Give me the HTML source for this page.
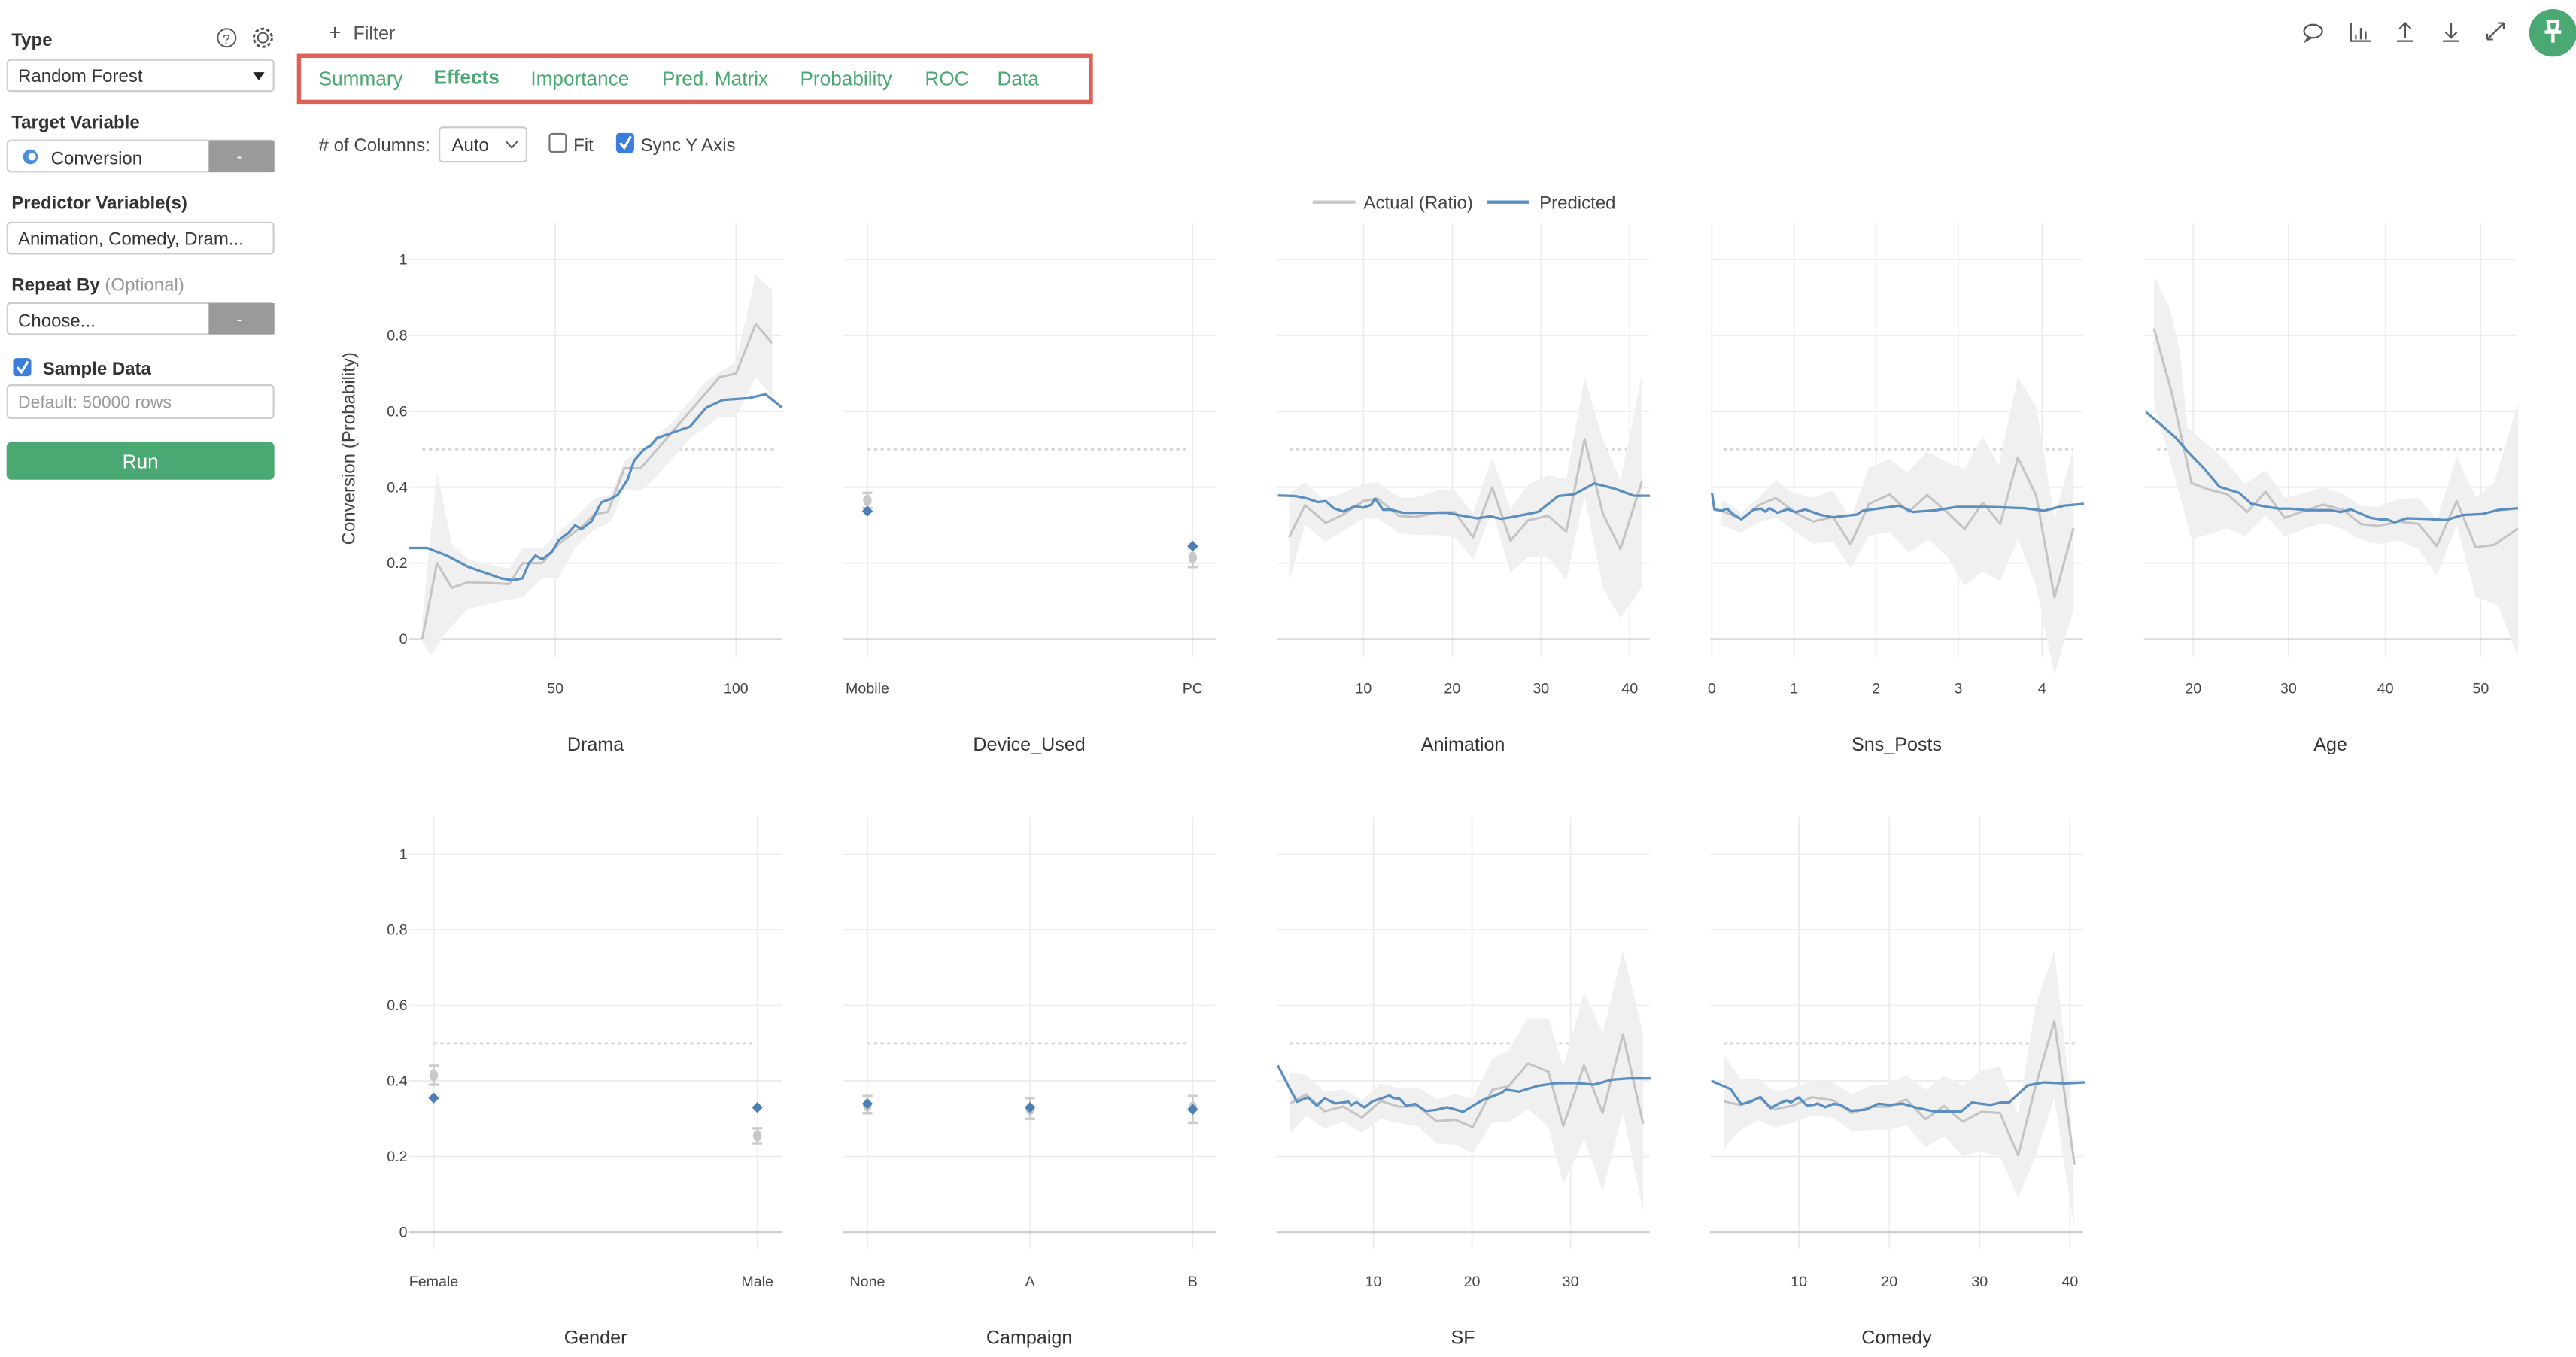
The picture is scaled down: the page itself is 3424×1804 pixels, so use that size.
<!DOCTYPE html>
<html><head><meta charset="utf-8">
<style>
html,body{margin:0;padding:0;background:#fff;width:3424px;height:1804px;overflow:hidden}
svg{display:block}
text{font-family:"Liberation Sans",Arial,sans-serif}
</style></head>
<body>
<svg id="s" xmlns="http://www.w3.org/2000/svg" width="3424" height="1804" viewBox="0 0 1568 826" preserveAspectRatio="none">
<g fill="#333">
<text x="7" y="28" font-size="11" font-weight="bold">Type</text>
<circle cx="138" cy="23" r="5.5" fill="none" stroke="#555" stroke-width="0.9"/><text x="135.5" y="26.5" font-size="8" fill="#555">?</text>
<circle cx="160" cy="23" r="3" fill="none" stroke="#555" stroke-width="0.9"/><circle cx="160" cy="23" r="5.5" fill="none" stroke="#555" stroke-width="1.4" stroke-dasharray="2 1.5"/>
<rect x="4.5" y="36.5" width="162" height="19" rx="2" fill="#fff" stroke="#ccc"/>
<text x="11" y="50" font-size="11">Random Forest</text>
<path d="M154 44 L161 44 L157.5 49 Z" fill="#222"/>
<text x="7" y="78" font-size="11" font-weight="bold">Target Variable</text>
<rect x="4.5" y="85.5" width="162" height="19" rx="2" fill="#fff" stroke="#ccc"/>
<rect x="127" y="85.5" width="40" height="19" fill="#9a9a9a"/>
<text x="144" y="99" font-size="11" fill="#fff">-</text>
<circle cx="18.5" cy="95.5" r="4.5" fill="#4a90d9"/><circle cx="19.5" cy="95.5" r="2.3" fill="#fff"/>
<text x="31" y="100" font-size="11">Conversion</text>
<text x="7" y="127" font-size="11" font-weight="bold">Predictor Variable(s)</text>
<rect x="4.5" y="135.5" width="162" height="19" rx="2" fill="#fff" stroke="#ccc"/>
<text x="11" y="149" font-size="11">Animation, Comedy, Dram...</text>
<text x="7" y="177" font-size="11" font-weight="bold">Repeat By <tspan font-weight="normal" fill="#999">(Optional)</tspan></text>
<rect x="4.5" y="184.5" width="162" height="19" rx="2" fill="#fff" stroke="#ccc"/>
<rect x="127" y="184.5" width="40" height="19" fill="#9a9a9a"/>
<text x="144" y="198" font-size="11" fill="#fff">-</text>
<text x="11" y="199" font-size="11">Choose...</text>
<rect x="8" y="218" width="11" height="11" rx="2" fill="#3b7ddd"/>
<path d="M10.5 223.5 L13 226.5 L17 220" stroke="#fff" stroke-width="1.5" fill="none"/>
<text x="26" y="228" font-size="11" font-weight="bold">Sample Data</text>
<rect x="4.5" y="234.5" width="162" height="20" rx="2" fill="#fff" stroke="#ccc"/>
<text x="11" y="248.5" font-size="10.5" fill="#999">Default: 50000 rows</text>
<rect x="4" y="269" width="163" height="23" rx="3" fill="#4aa872"/>
<text x="85.5" y="285" font-size="12" fill="#fff" text-anchor="middle">Run</text>
</g>
<text x="200" y="24" font-size="13" fill="#555">+</text>
<text x="215" y="24" font-size="11.5" fill="#555">Filter</text>
<rect x="182" y="34" width="482" height="28" fill="none" stroke="#dc6258" stroke-width="2.5"/>
<g font-size="12" fill="#4aa872">
<text x="194" y="52">Summary</text>
<text x="264" y="51" font-weight="bold">Effects</text>
<text x="323" y="52">Importance</text>
<text x="403" y="52">Pred. Matrix</text>
<text x="487" y="52">Probability</text>
<text x="563" y="52">ROC</text>
<text x="607" y="52">Data</text>
</g>
<text x="194" y="92" font-size="11" fill="#444"># of Columns:</text>
<rect x="267.5" y="77.5" width="53" height="21" rx="2" fill="#fff" stroke="#ccc"/>
<text x="275" y="92" font-size="11" fill="#333">Auto</text>
<path d="M308 86 L311.5 90 L315 86" stroke="#555" fill="none" stroke-width="0.9"/>
<rect x="334.5" y="81.5" width="10" height="11" rx="1.5" fill="#fff" stroke="#777"/>
<text x="349" y="92" font-size="11" fill="#444">Fit</text>
<rect x="375" y="81" width="11" height="12" rx="2" fill="#3b7ddd"/>
<path d="M377.5 87 L380 90 L384 83" stroke="#fff" stroke-width="1.5" fill="none"/>
<text x="390" y="92" font-size="11" fill="#444">Sync Y Axis</text>
<g stroke="#555" fill="none" stroke-width="1">
<ellipse cx="1408" cy="19" rx="5.5" ry="4"/><path d="M1405 22.5 L1403.5 25 L1407 23"/>
<path d="M1431 14 V25 H1443 M1434 24 V21 M1437 24 V17 M1440 24 V19"/>
<path d="M1459 25 H1469 M1464 23 V14 M1460.5 17.5 L1464 14 L1467.5 17.5"/>
<path d="M1487 25 H1497 M1492 14 V23 M1488.5 19.5 L1492 23 L1495.5 19.5"/>
<path d="M1514 24 L1524 14 M1514 24 V20.5 M1514 24 H1517.5 M1524 14 V17.5 M1524 14 H1520.5"/>
</g>
<circle cx="1554" cy="20" r="14.5" fill="#4aa872"/>
<path d="M1550 13 H1558 M1551 13 L1552 19 H1556 L1557 13 M1549 19.5 H1559 M1554 19.5 V26" stroke="#fff" stroke-width="2" fill="none"/>
<line x1="799" y1="123" x2="825" y2="123" stroke="#c8c8c8" stroke-width="2"/>
<text x="830" y="127" font-size="11" fill="#444">Actual (Ratio)</text>
<line x1="905" y1="123" x2="931" y2="123" stroke="#5a8fc0" stroke-width="2"/>
<text x="937" y="127" font-size="11" fill="#444">Predicted</text>
<text transform="translate(216,273) rotate(-90)" font-size="11" fill="#444" text-anchor="middle">Conversion (Probability)</text>
<g id="plots"></g>
</svg>
<script>
var NS="http://www.w3.org/2000/svg",G=document.getElementById('plots');
function el(t,a,txt){var e=document.createElementNS(NS,t);for(var k in a)e.setAttribute(k,a[k]);if(txt!==undefined)e.textContent=txt;G.appendChild(e);return e;}
function pth(pts){return pts.map(function(p,i){return (i?'L':'M')+p[0].toFixed(2)+' '+p[1].toFixed(2);}).join(' ');}
var rows=[{y0:389,h:231,top:136,bot:400,tick:422,title:457},{y0:750,h:230,top:497,bot:760,tick:783,title:818}];
var pans=[
 {r:0,x0:249,x1:476,name:"Drama",ticks:[[338,"50"],[448,"100"]],yl:true},
 {r:0,x0:513,x1:740,name:"Device_Used",ticks:[[528,"Mobile"],[726,"PC"]]},
 {r:0,x0:777,x1:1004,name:"Animation",ticks:[[830,"10"],[884,"20"],[938,"30"],[992,"40"]]},
 {r:0,x0:1041,x1:1268,name:"Sns_Posts",ticks:[[1042,"0"],[1092,"1"],[1142,"2"],[1192,"3"],[1243,"4"]]},
 {r:0,x0:1305,x1:1532,name:"Age",ticks:[[1335,"20"],[1393,"30"],[1452,"40"],[1510,"50"]]},
 {r:1,x0:249,x1:476,name:"Gender",ticks:[[264,"Female"],[461,"Male"]],yl:true},
 {r:1,x0:513,x1:740,name:"Campaign",ticks:[[528,"None"],[627,"A"],[726,"B"]]},
 {r:1,x0:777,x1:1004,name:"SF",ticks:[[836,"10"],[896,"20"],[956,"30"]]},
 {r:1,x0:1041,x1:1268,name:"Comedy",ticks:[[1095,"10"],[1150,"20"],[1205,"30"],[1260,"40"]]}
];
pans.forEach(function(p){var R=rows[p.r];
 p.ticks.forEach(function(t){el('line',{x1:t[0],x2:t[0],y1:R.top,y2:R.bot,stroke:'#ececec','stroke-width':0.8});
  el('text',{x:t[0],y:R.tick,'font-size':9,fill:'#444','text-anchor':'middle'},t[1]);});
 for(var i=0;i<=5;i++){var y=R.y0-i*0.2*R.h;
  el('line',{x1:p.x0,x2:p.x1,y1:y,y2:y,stroke:i?'#ececec':'#cfcfcf','stroke-width':i?0.9:1.1});
  if(p.yl)el('text',{x:p.x0-1,y:y+3,'font-size':9,fill:'#444','text-anchor':'end'},i==0?"0":i==5?"1":(i*0.2).toFixed(1));}
 el('text',{x:(p.x0+p.x1)/2,y:R.title,'font-size':11.5,fill:'#333','text-anchor':'middle'},p.name);
});
function dash(r,x0,x1){var R=rows[r],y=R.y0-0.5*R.h;el('line',{x1:x0,x2:x1,y1:y,y2:y,stroke:'#d8d8d8','stroke-width':1.4,'stroke-dasharray':'2 2'});}
function series(band,gray,blue){
 el('path',{d:pth(band)+' Z',fill:'#f0f0f0'});
 el('path',{d:pth(gray),fill:'none',stroke:'#c4c4c4','stroke-width':1.4,'stroke-linejoin':'round'});
 el('path',{d:pth(blue),fill:'none',stroke:'#5a8fc0','stroke-width':1.5,'stroke-linejoin':'round'});
}
function V(r,a){var R=rows[r];return a.map(function(p){return [p[0],R.y0-p[1]*R.h];});}
dash(0,257,471);
series(V(0,[[257,0.05],[266,0.44],[275,0.25],[285,0.21],[310,0.185],[318,0.24],[330,0.24],[350,0.32],[362,0.37],[372,0.38],[380,0.47],[390,0.50],[410,0.575],[430,0.68],[448,0.73],[460,0.96],[470,0.92],[470,0.64],[460,0.69],[448,0.585],[438,0.585],[420,0.53],[400,0.43],[390,0.39],[380,0.395],[372,0.31],[362,0.29],[350,0.24],[340,0.16],[330,0.16],[318,0.11],[305,0.1],[285,0.08],[272,0.02],[262,-0.045],[257,-0.005]]),
 V(0,[[257,0],[266,0.2],[275,0.135],[285,0.15],[310,0.145],[318,0.2],[330,0.2],[340,0.25],[355,0.3],[362,0.33],[370,0.335],[380,0.45],[390,0.45],[400,0.5],[420,0.6],[438,0.69],[448,0.7],[460,0.83],[470,0.78]]),
 V(0,[[249,0.24],[260,0.24],[272,0.22],[285,0.19],[295,0.175],[305,0.16],[312,0.155],[318,0.16],[322,0.2],[326,0.22],[330,0.21],[336,0.23],[340,0.26],[346,0.28],[350,0.3],[354,0.29],[360,0.31],[366,0.36],[372,0.37],[376,0.38],[382,0.42],[386,0.47],[392,0.5],[396,0.51],[400,0.53],[410,0.545],[420,0.56],[430,0.61],[440,0.63],[456,0.635],[466,0.645],[476,0.61]]));
function Z4(a){return a.map(function(p){return [774+p[0]*0.4848, 389-(1108-p[1])/1502*231];});}
function Z5(a){return a.map(function(p){return [773.9+p[0]*0.3242, 750-(1107-p[1])/1512*230];});}
dash(0,785,998);dash(0,1049,1262);dash(0,1313,1532);
function bandZ(f,u,l){return f(u.concat(l));}
series(bandZ(Z4,[[22,530],[42,487],[65,555],[90,530],[115,495],[133,487],[160,548],[180,548],[210,518],[228,515],[253,610],[277,388],[300,592],[322,497],[347,460],[370,475],[393,72],[416,318],[438,480],[465,62]],[[465,900],[438,1025],[416,905],[393,540],[370,875],[347,785],[322,783],[300,845],[277,600],[253,793],[230,705],[210,697],[180,695],[160,688],[133,630],[115,633],[90,680],[68,722],[42,655],[22,880]]),
 Z4([[22,705],[42,578],[68,648],[90,615],[115,562],[133,552],[160,620],[180,625],[210,606],[230,606],[253,705],[277,508],[300,718],[322,638],[347,620],[370,682],[393,316],[416,612],[438,752],[465,484]]),
 Z4([[8,540],[30,542],[45,552],[58,566],[68,562],[78,590],[90,603],[105,582],[115,588],[125,577],[130,552],[140,596],[150,596],[165,608],[220,608],[240,620],[258,630],[275,622],[288,632],[300,626],[320,614],[335,604],[360,542],[380,535],[405,492],[430,512],[455,541],[475,541]]));
series(bandZ(Z4,[[565,556],[590,608],[612,548],[633,480],[655,530],[680,548],[705,520],[727,632],[750,430],[776,395],[798,450],[823,365],[848,408],[870,436],[893,305],[913,420],[937,72],[960,188],[983,630],[1007,350]],[[1007,990],[983,1250],[960,900],[937,712],[915,878],[893,840],[870,897],[848,780],[825,715],[800,765],[776,683],[750,698],[727,828],[705,722],[680,731],[660,690],[635,628],[612,643],[590,687],[565,657]]),
 Z4([[565,600],[590,634],[612,578],[633,550],[660,612],[680,643],[705,625],[727,733],[750,573],[776,536],[800,605],[823,538],[848,605],[870,672],[893,568],[915,652],[937,390],[960,540],[983,943],[1007,668]]),
 Z4([[553,530],[556,595],[565,600],[572,592],[580,615],[590,634],[605,596],[615,592],[620,604],[625,590],[635,608],[648,594],[658,606],[670,595],[690,617],[705,626],[735,615],[742,600],[788,580],[805,605],[835,598],[860,585],[900,585],[945,590],[970,600],[995,580],[1020,573]]));
series(bandZ(Z4,[[1108,-330],[1128,-200],[1140,-40],[1150,272],[1180,350],[1200,410],[1222,495],[1248,440],[1272,548],[1300,528],[1320,508],[1345,533],[1368,582],[1390,585],[1415,553],[1440,550],[1463,635],[1488,386],[1512,548],[1535,490],[1565,175]],[[1565,1180],[1540,975],[1512,940],[1488,658],[1463,855],[1440,752],[1415,717],[1390,732],[1368,715],[1345,672],[1320,648],[1300,667],[1272,702],[1248,618],[1222,702],[1200,668],[1180,690],[1155,712],[1130,420],[1108,180]]),
 Z4([[1108,-121],[1130,130],[1155,490],[1175,515],[1200,535],[1225,605],[1248,525],[1272,628],[1300,597],[1320,576],[1345,596],[1368,653],[1390,660],[1415,643],[1440,652],[1463,740],[1488,562],[1512,745],[1535,735],[1565,670]]),
 Z4([[1098,210],[1115,255],[1135,310],[1150,365],[1170,430],[1190,505],[1215,530],[1230,572],[1250,585],[1265,592],[1280,592],[1300,598],[1330,598],[1342,605],[1355,595],[1380,628],[1392,634],[1400,634],[1410,646],[1425,630],[1450,632],[1475,637],[1495,617],[1520,613],[1540,597],[1565,590]]));
dash(1,785,999);dash(1,1049,1263);
series(bandZ(Z5,[[35,468],[65,478],[100,547],[135,535],[170,580],[205,513],[240,532],[275,528],[310,575],[345,555],[378,572],[415,412],[445,380],[482,250],[520,250],[548,445],[587,148],[622,312],[660,-20],[698,315]],[[698,1025],[660,630],[622,942],[587,735],[548,915],[520,685],[482,614],[445,668],[415,665],[378,792],[345,757],[310,753],[275,683],[240,670],[205,653],[170,710],[135,665],[100,692],[65,642],[35,712]]),
 Z5([[35,593],[65,556],[100,623],[135,604],[170,648],[205,582],[240,605],[275,603],[310,663],[345,657],[378,686],[415,537],[445,524],[482,432],[520,465],[548,682],[587,440],[622,630],[660,316],[698,673]]),
 Z5([[12,440],[35,535],[48,585],[68,568],[85,600],[100,572],[120,592],[145,585],[150,598],[160,587],[175,608],[190,583],[205,573],[222,560],[228,570],[240,573],[253,600],[270,594],[290,622],[310,617],[330,607],[360,625],[395,580],[432,550],[440,537],[465,545],[500,522],[535,511],[570,510],[605,517],[640,497],[670,492],[712,492]]));
series(bandZ(Z5,[[850,400],[880,492],[915,495],[945,545],[980,530],[1015,500],[1055,510],[1090,555],[1125,522],[1160,515],[1192,478],[1228,538],[1263,483],[1298,520],[1333,460],[1368,445],[1402,635],[1435,200],[1470,-20],[1500,560]],[[1508,1100],[1470,570],[1435,800],[1402,970],[1368,805],[1333,785],[1298,800],[1263,725],[1228,767],[1192,678],[1160,698],[1125,698],[1090,703],[1055,650],[1015,640],[980,668],[945,688],[915,658],[880,700],[850,770]]),
 Z5([[850,584],[880,598],[915,570],[945,615],[980,600],[1015,567],[1055,580],[1090,630],[1125,605],[1160,605],[1192,576],[1228,655],[1263,602],[1298,665],[1333,625],[1368,630],[1402,800],[1435,520],[1470,262],[1508,838]]),
 Z5([[826,502],[862,535],[882,595],[900,585],[918,566],[937,610],[955,590],[968,580],[975,588],[990,568],[1005,600],[1020,597],[1025,592],[1040,607],[1055,594],[1068,597],[1088,621],[1115,617],[1140,593],[1160,598],[1185,593],[1210,608],[1245,624],[1295,624],[1315,588],[1350,598],[1370,588],[1385,588],[1420,520],[1450,508],[1490,512],[1527,508]]));
dash(0,528,724);dash(1,264,459);dash(1,528,724);
function cat(r,x,g,lo,hi,b){var R=rows[r];function Y(v){return R.y0-v*R.h;}
 el('line',{x1:x,x2:x,y1:Y(lo),y2:Y(hi),stroke:'#ccc','stroke-width':1.3});
 el('line',{x1:x-3,x2:x+3,y1:Y(lo),y2:Y(lo),stroke:'#ccc','stroke-width':1.6});
 el('line',{x1:x-3,x2:x+3,y1:Y(hi),y2:Y(hi),stroke:'#ccc','stroke-width':1.6});
 el('ellipse',{cx:x,cy:Y(g),rx:2.6,ry:3.5,fill:'#c8c8c8'});
 var y=Y(b);el('path',{d:'M'+(x-3.3)+' '+y+' L'+x+' '+(y-3.3)+' L'+(x+3.3)+' '+y+' L'+x+' '+(y+3.3)+' Z',fill:'#4a7fb5'});}
cat(0,528,0.365,0.345,0.385,0.337);cat(0,726,0.215,0.19,0.24,0.245);
cat(1,264,0.415,0.39,0.44,0.355);cat(1,461,0.255,0.235,0.275,0.33);
cat(1,528,0.335,0.315,0.36,0.34);cat(1,627,0.325,0.30,0.355,0.33);cat(1,726,0.33,0.29,0.36,0.325);
</script>
</body></html>
